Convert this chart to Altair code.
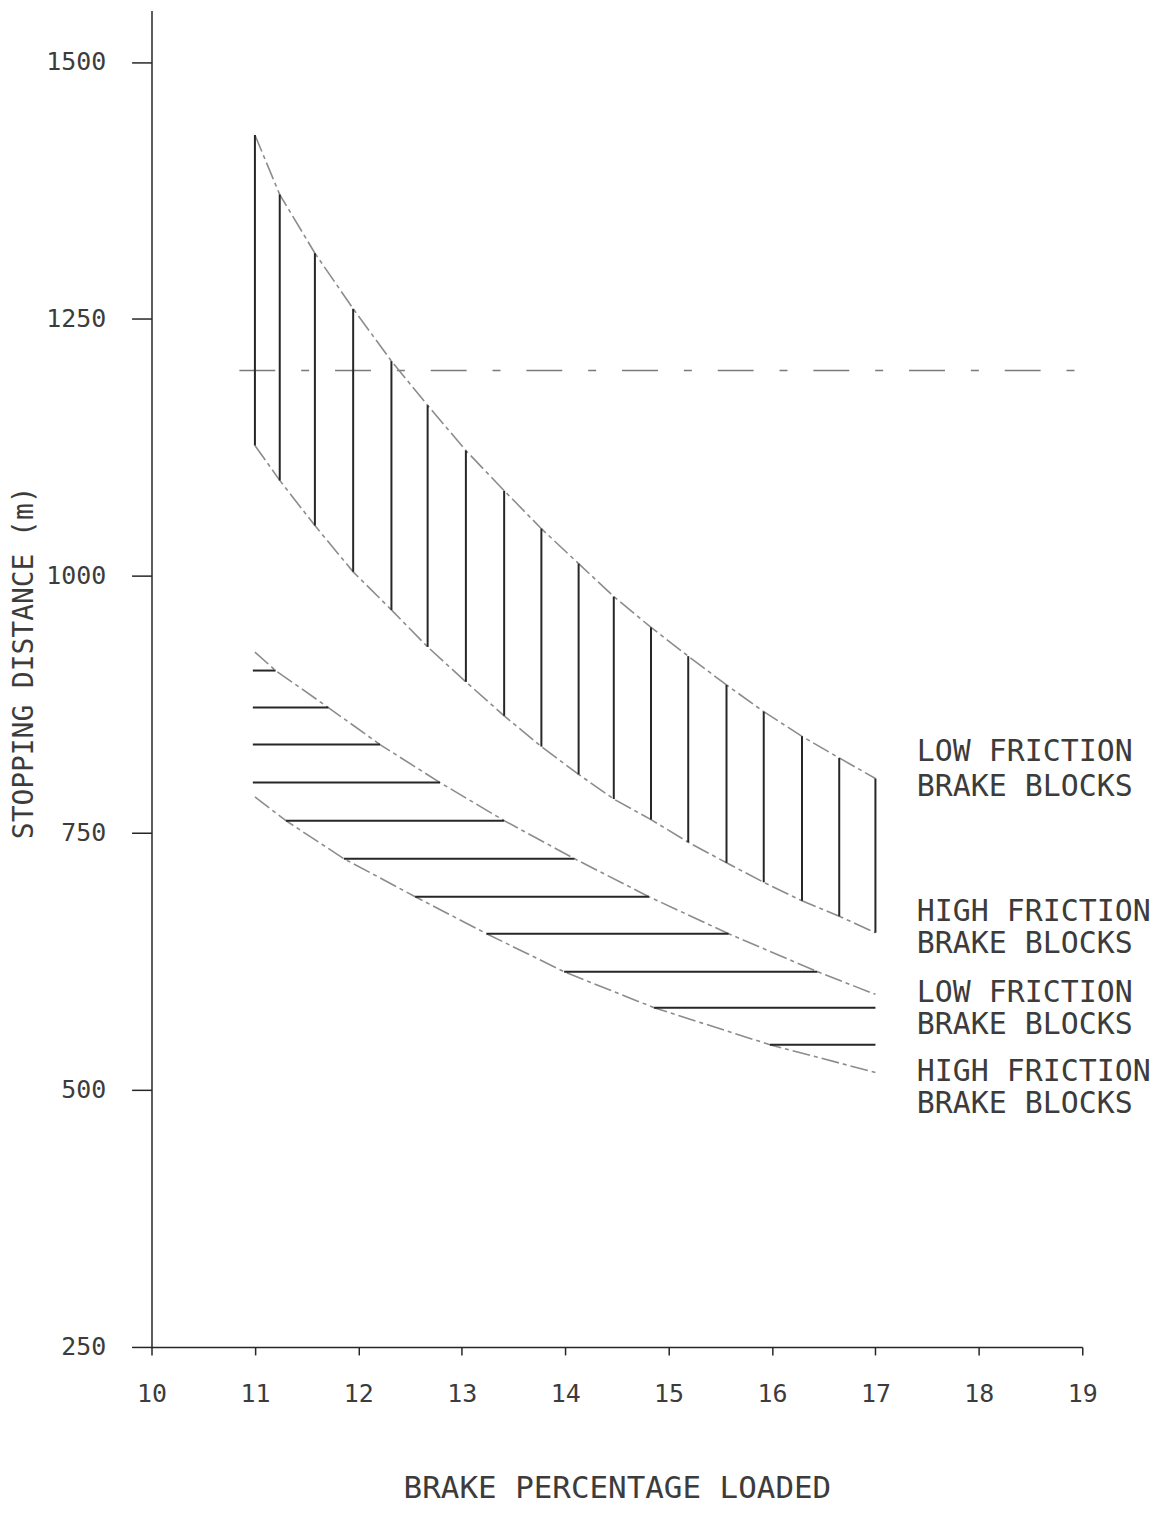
import altair as alt
import pandas as pd

# ---- data ----
upper_x = [11.0, 11.24, 11.58, 11.95, 12.32, 12.67, 13.04, 13.41, 13.77, 14.13,
           14.47, 14.83, 15.19, 15.56, 15.92, 16.29, 16.65, 17.0]
upper_top = [1429, 1371, 1314, 1260, 1209, 1166, 1122, 1083, 1046, 1012,
             980, 950, 922, 894, 868, 844, 823, 803]
upper_bottom = [1127, 1093, 1049, 1004, 967, 931, 897, 864, 834, 807,
                783, 763, 741, 721, 702, 684, 669, 653]

lower_top_x = [11.0, 11.2, 11.71, 12.21, 12.79, 13.41, 14.09, 14.81, 15.58, 16.44, 17.0]
lower_top_y = [926, 908, 872, 836, 799, 762, 725, 688, 652, 615, 593]
lower_bottom_x = [11.0, 11.3, 11.86, 12.55, 13.24, 13.99, 14.86, 15.98, 17.0]
lower_bottom_y = [785, 762, 725, 688, 652, 615, 580, 544, 517]

hatch_y = [908, 872, 836, 799, 762, 725, 688, 652, 615, 580, 544]
hatch_x_start = [10.98, 10.98, 10.98, 10.98, 11.3, 11.86, 12.55, 13.24, 13.99, 14.86, 15.98]
hatch_x_end = [11.2, 11.71, 12.21, 12.79, 13.41, 14.09, 14.81, 15.58, 16.44, 17.0, 17.0]

limit_y = [1200]
limit_x_start = [10.85]
limit_x_end = [19.0]

label_lines = ["LOW FRICTION", "BRAKE BLOCKS", "HIGH FRICTION", "BRAKE BLOCKS",
               "LOW FRICTION", "BRAKE BLOCKS", "HIGH FRICTION", "BRAKE BLOCKS"]
label_y = [829, 795, 673, 642, 594, 563, 517, 486]
label_x = [17.4] * 8

x_ticks = [10, 11, 12, 13, 14, 15, 16, 17, 18, 19]
y_ticks = [250, 500, 750, 1000, 1250, 1500]

# ---- tables ----
curves = pd.DataFrame(
    [{"x": x, "y": y, "curve": "upper_top"} for x, y in zip(upper_x, upper_top)]
    + [{"x": x, "y": y, "curve": "upper_bottom"} for x, y in zip(upper_x, upper_bottom)]
    + [{"x": x, "y": y, "curve": "lower_top"} for x, y in zip(lower_top_x, lower_top_y)]
    + [{"x": x, "y": y, "curve": "lower_bottom"} for x, y in zip(lower_bottom_x, lower_bottom_y)]
)
vhatch = pd.DataFrame({"x": upper_x, "y": upper_bottom, "y2": upper_top})
hhatch = pd.DataFrame({"x": hatch_x_start, "x2": hatch_x_end, "y": hatch_y})
limit = pd.DataFrame({"x": limit_x_start, "x2": limit_x_end, "y": limit_y})
labels = pd.DataFrame({"x": label_x, "y": label_y, "text": label_lines})

FONT = "DejaVu Sans Mono"
INK = "#262626"
TXT = "#3c3c3c"

xs = alt.Scale(domain=[10, 19], nice=False, zero=False)
ys = alt.Scale(domain=[250, 1550], nice=False, zero=False)

xaxis = alt.Axis(values=x_ticks, tickSize=8, tickColor=INK, tickWidth=1.5,
                 domainColor=INK, domainWidth=1.5, labelFont=FONT, labelFontSize=25,
                 labelColor=TXT, labelPadding=27, labelFlush=False,
                 title="BRAKE PERCENTAGE LOADED",
                 titleFont=FONT, titleFontSize=31, titleFontWeight="normal",
                 titleColor=TXT, titleY=142, titleBaseline="middle",
                 grid=False, format="d")
yaxis = alt.Axis(values=y_ticks, tickSize=20, tickColor=INK, tickWidth=1.5,
                 domainColor=INK, domainWidth=1.5, labelFont=FONT, labelFontSize=25,
                 labelColor=TXT, labelPadding=26, labelFlush=False,
                 title="STOPPING DISTANCE (m)",
                 titleFont=FONT, titleFontSize=28, titleFontWeight="normal",
                 titleColor=TXT, titleX=-127, titleY=654, titleBaseline="middle",
                 grid=False, format="d")


def X(f="x"):
    return alt.X(f"{f}:Q", scale=xs, axis=xaxis)


def Y(f="y"):
    return alt.Y(f"{f}:Q", scale=ys, axis=yaxis)


curve_layer = alt.Chart(curves).mark_line(
    color="#8c8c8c", strokeWidth=1.6, strokeDash=[18, 4, 4, 4]
).encode(x=X(), y=Y(), detail="curve:N", order="x:Q")

vh_layer = alt.Chart(vhatch).mark_rule(color=INK, strokeWidth=2).encode(
    x=X(), y=Y(), y2="y2:Q")

hh_layer = alt.Chart(hhatch).mark_rule(color=INK, strokeWidth=2).encode(
    x=X(), x2="x2:Q", y=Y())

limit_layer = alt.Chart(limit).mark_rule(
    color="#7a7a7a", strokeWidth=1.5, strokeDash=[36, 26, 8, 26]
).encode(x=X(), x2="x2:Q", y=Y())

text_layer = alt.Chart(labels).mark_text(
    align="left", baseline="middle", font=FONT, fontSize=30, color=TXT
).encode(x=X(), y=Y(), text="text:N")

chart = alt.layer(
    limit_layer, curve_layer, vh_layer, hh_layer, text_layer
).properties(
    width=934, height=1341,
    autosize=alt.AutoSizeParams(type="none"),
    padding={"left": 144, "top": 0, "right": 75, "bottom": 158},
    background="white",
).configure_view(stroke=None)

chart.save("out.html", embed_options={"renderer": "svg", "actions": False})
